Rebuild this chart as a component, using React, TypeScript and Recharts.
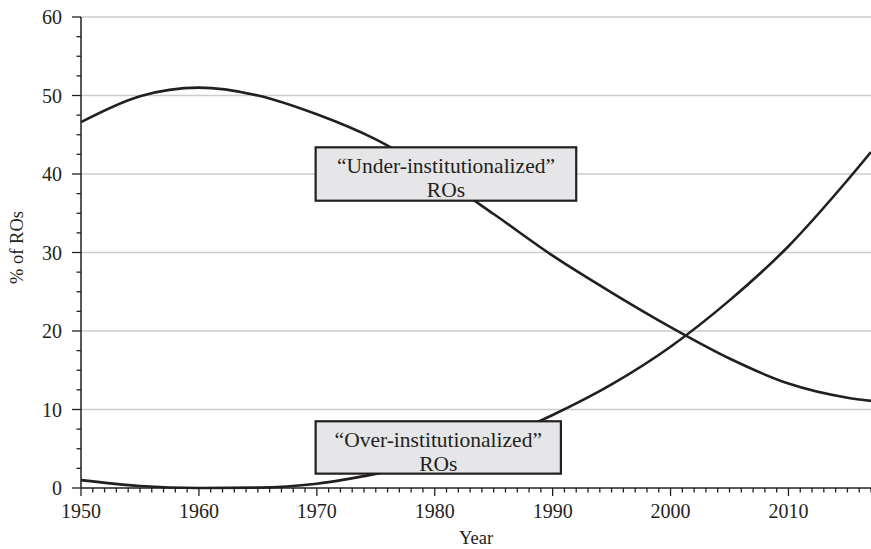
import React from 'react';
import { ComposedChart, Line, XAxis, YAxis, CartesianGrid, ReferenceArea, Label } from 'recharts';

const years = [1950, 1955, 1960, 1965, 1970, 1975, 1980, 1985, 1990, 1995, 2000, 2005, 2010, 2015, 2017];
const underInstitutionalized = [46.6, 49.9, 51.0, 50.0, 47.6, 44.4, 40.0, 34.9, 29.6, 24.9, 20.5, 16.5, 13.3, 11.5, 11.1];
const overInstitutionalized = [1.0, 0.25, 0.0, 0.05, 0.55, 1.8, 3.5, 6.0, 9.3, 13.2, 18.0, 23.9, 30.8, 39.2, 42.8];

const xMajorTicks = [1950, 1960, 1970, 1980, 1990, 2000, 2010];
const yMajorTicks = [0, 10, 20, 30, 40, 50, 60];
const gridValues = [10, 20, 30, 40, 50, 60];

const xAllTicks: number[] = [];
for (let y = 1950; y <= 2017; y++) xAllTicks.push(y);
const yAllTicks: number[] = [];
for (let v = 0; v <= 60; v += 2.5) yAllTicks.push(v);

const data = years.map((year, i) => ({
  year,
  under: underInstitutionalized[i],
  over: overInstitutionalized[i],
}));

const INK = '#231f20';
const FONT = '"Liberation Serif", "DejaVu Serif", serif';

const XTick = (props: any) => {
  const { x, y, payload } = props;
  const major = xMajorTicks.includes(payload.value);
  return (
    <g>
      <line x1={x} x2={x} y1={y} y2={y + (major ? 8 : 4.5)} stroke={INK} strokeWidth={1.3} />
      {major && (
        <text x={x} y={y + 23} textAnchor="middle" dominantBaseline="central" fontFamily={FONT} fontSize={20} fill={INK}>
          {payload.value}
        </text>
      )}
    </g>
  );
};

const YTick = (props: any) => {
  const { x, y, payload } = props;
  const major = yMajorTicks.includes(payload.value);
  return (
    <g>
      <line x1={x - (major ? 9 : 4.5)} x2={x} y1={y} y2={y} stroke={INK} strokeWidth={1.3} />
      {major && (
        <text x={x - 19} y={y} textAnchor="end" dominantBaseline="central" fontFamily={FONT} fontSize={20} fill={INK}>
          {payload.value}
        </text>
      )}
    </g>
  );
};

const makeBox = (line1: string, line2: string) => (props: any) => {
  const { x, y, width, height } = props;
  const cx = x + width / 2;
  return (
    <g>
      <rect x={x} y={y} width={width} height={height} fill="#e6e6e8" stroke={INK} strokeWidth={2.2} />
      <text x={cx} y={y + 18.5} textAnchor="middle" dominantBaseline="central" fontFamily={FONT} fontSize={21.5} fill={INK}>
        {line1}
      </text>
      <text x={cx} y={y + 43} textAnchor="middle" dominantBaseline="central" fontFamily={FONT} fontSize={21.5} fill={INK}>
        {line2}
      </text>
    </g>
  );
};

const UnderBox = makeBox('\u201CUnder-institutionalized\u201D', 'ROs');
const OverBox = makeBox('\u201COver-institutionalized\u201D', 'ROs');

export default function App() {
  return (
    <div style={{ position: 'absolute', left: 0, top: 0, width: 871, height: 549, background: '#fff' }}>
      <ComposedChart width={871} height={549} data={data} margin={{ top: 17, right: 0, bottom: 0, left: 0 }}>
        <CartesianGrid vertical={false} horizontalValues={gridValues} stroke="#cbcbd0" strokeWidth={1.5} />
        <XAxis
          dataKey="year"
          type="number"
          domain={[1950, 2017]}
          ticks={xAllTicks}
          interval={0}
          height={61}
          tickSize={0}
          tickMargin={0}
          tickLine={false}
          tick={<XTick />}
          axisLine={{ stroke: INK, strokeWidth: 1.5 }}
        >
          <Label
            content={(p: any) => {
              const vb = p.viewBox;
              return (
                <text x={vb.x + vb.width / 2} y={vb.y + 50} textAnchor="middle" dominantBaseline="central" fontFamily={FONT} fontSize={18.5} fill={INK}>
                  Year
                </text>
              );
            }}
          />
        </XAxis>
        <YAxis
          type="number"
          domain={[0, 60]}
          ticks={yAllTicks}
          interval={0}
          width={81}
          tickSize={0}
          tickMargin={0}
          tickLine={false}
          tick={<YTick />}
          axisLine={{ stroke: INK, strokeWidth: 1.5 }}
        >
          <Label
            content={(p: any) => {
              const vb = p.viewBox;
              const cx = vb.x + 17;
              const cy = vb.y + vb.height / 2 - 5;
              return (
                <text x={cx} y={cy} textAnchor="middle" dominantBaseline="central" transform={`rotate(-90, ${cx}, ${cy})`} fontFamily={FONT} fontSize={18.5} fill={INK}>
                  % of ROs
                </text>
              );
            }}
          />
        </YAxis>
        <Line type="monotone" dataKey="under" stroke={INK} strokeWidth={2.6} dot={false} activeDot={false} isAnimationActive={false} />
        <Line type="monotone" dataKey="over" stroke={INK} strokeWidth={2.6} dot={false} activeDot={false} isAnimationActive={false} />
        <ReferenceArea x1={1969.9} x2={1992.0} y1={36.6} y2={43.4} shape={<UnderBox />} zIndex={1500} ifOverflow="visible" />
        <ReferenceArea x1={1969.9} x2={1990.7} y1={1.83} y2={8.5} shape={<OverBox />} zIndex={1500} ifOverflow="visible" />
      </ComposedChart>
    </div>
  );
}
